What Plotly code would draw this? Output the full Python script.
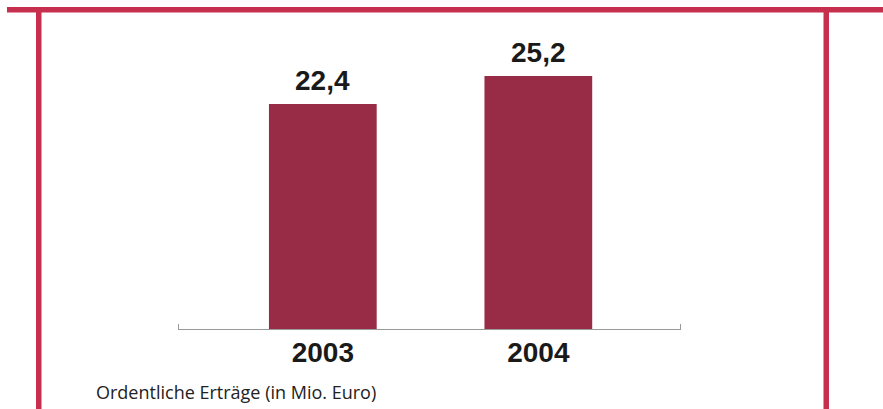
import plotly.graph_objects as go

years = ["2003", "2004"]
values = [22.4, 25.2]
caption = "Ordentliche Erträge (in Mio. Euro)"

W, H = 883, 409
BAR = "#982B45"
RED = "#C6304E"

base_px = 329  # from top
px_per_unit = 10.04
plot_h = base_px
y_max = plot_h / px_per_unit

fig = go.Figure()
fig.add_trace(go.Bar(x=years, y=values, marker=dict(color=BAR, line=dict(width=0)), width=0.5))

for i, v in enumerate(values):
    fig.add_annotation(x=i, y=v, xref="x", yref="y", text=f"{v:.1f}".replace(".", ","), showarrow=False,
                       yanchor="bottom", yshift=6,
                       font=dict(family="Liberation Sans", size=28, color="#1a1a1a", weight="bold"))

def px_x(x):
    return x / W

def px_y(y):
    return (H - y) / H

shapes = [
    dict(type="rect", xref="paper", yref="paper", x0=px_x(7), x1=px_x(883), y0=px_y(12.5), y1=px_y(7), fillcolor=RED, line=dict(width=0), layer="above"),
    dict(type="rect", xref="paper", yref="paper", x0=px_x(36), x1=px_x(41.5), y0=px_y(409), y1=px_y(12), fillcolor=RED, line=dict(width=0), layer="above"),
    dict(type="rect", xref="paper", yref="paper", x0=px_x(823.5), x1=px_x(829), y0=px_y(409), y1=px_y(12), fillcolor=RED, line=dict(width=0), layer="above"),
    dict(type="line", xref="paper", yref="paper", x0=px_x(178.5), x1=px_x(178.5), y0=px_y(329), y1=px_y(324), line=dict(color="#999999", width=1)),
    dict(type="line", xref="paper", yref="paper", x0=px_x(680.5), x1=px_x(680.5), y0=px_y(329), y1=px_y(324), line=dict(color="#999999", width=1)),
]

fig.add_annotation(xref="paper", yref="paper", x=px_x(94), y=px_y(392), xanchor="left", yanchor="middle",
                   text=caption, showarrow=False,
                   font=dict(family="Open Sans", size=18, color="#222222"))

fig.update_layout(
    width=W, height=H,
    margin=dict(l=0, r=0, t=0, b=0),
    paper_bgcolor="white", plot_bgcolor="white",
    showlegend=False,
    shapes=shapes,
    bargap=0.5,
    xaxis=dict(type="category", domain=[178 / W, 681 / W], range=[-0.672, 1.662], showline=True,
               linecolor="#999999", linewidth=1,
               showgrid=False, zeroline=False, ticks="", ticklabelstandoff=-2,
               tickfont=dict(family="Liberation Sans", size=28, color="#1a1a1a", weight="bold")),
    yaxis=dict(domain=[(H - base_px) / H, 1], range=[0, y_max], visible=False, showgrid=False, zeroline=False),
)

fig.write_html("out.html")
